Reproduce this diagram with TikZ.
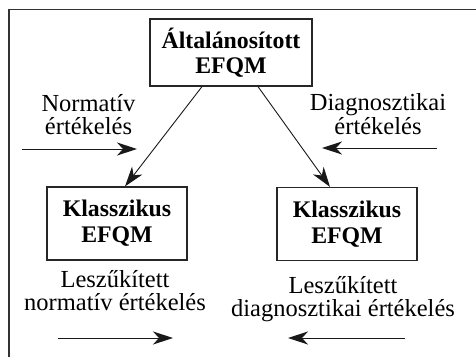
\documentclass[tikz,border=0pt]{standalone}
\usepackage{fontspec}
\setmainfont{Liberation Serif}
\usetikzlibrary{arrows.meta}
\begin{document}
\begin{tikzpicture}[x=1pt,y=-1pt,
  box/.style={draw=black!85, line width=1.2pt, align=center, inner sep=0pt,
    font=\fontsize{23.8}{25}\selectfont\bfseries},
  lbl/.style={anchor=base, inner sep=0pt, align=center,
    font=\fontsize{24.5}{22}\selectfont},
  arr/.style={draw=black!90, line width=0.9pt, -{Stealth[length=20pt,width=13pt,inset=6pt]}},
  frame/.style={draw=black!80, line width=1.6pt}]
\useasboundingbox (0,0) rectangle (476,356);
% frame (only top and left edges visible)
\coordinate (fa) at (9,400);
\coordinate (fb) at (9,9.5);
\coordinate (fc) at (500,9.5);
\draw[frame] (fa) -- (fb) -- (fc);
% boxes
\node[box, minimum width=162pt, minimum height=67pt] (top) at (231,52.5)
  {Általánosított\\EFQM};
\node[box, minimum width=140pt, minimum height=73pt] (left) at (117,223.5)
  {Klasszikus\\[1pt]EFQM};
\node[box, minimum width=140pt, minimum height=73pt] (right) at (347,224)
  {Klasszikus\\[1pt]EFQM};
% diagonal arrows
\draw[arr] ([xshift=-29pt]top.south) -- ([xshift=8pt]left.north);
\draw[arr] ([xshift=27pt]top.south) -- ([xshift=-17pt]right.north);
% upper labels (base = baseline of the last line)
\node[lbl] (nl) at (88.5,134.5) {Normatív\\[1pt]értékelés};
\node[lbl] (dl) at (378,134.5) {Diagnosztikai\\[1pt]értékelés};
% upper horizontal arrows
\coordinate (a1s) at (22,149);
\coordinate (a1e) at (137,149);
\coordinate (a2s) at (437,148);
\coordinate (a2e) at (322,148);
\draw[arr] (a1s) -- (a1e);
\draw[arr] (a2s) -- (a2e);
% lower labels
\node[lbl] (ll) at (115,310) {Leszűkített\\[1pt]normatív értékelés};
\node[lbl] (rl) at (343,316) {Leszűkített\\[1pt]diagnosztikai értékelés};
% lower horizontal arrows
\coordinate (b1s) at (58,338);
\coordinate (b1e) at (173,338);
\coordinate (b2s) at (405,338);
\coordinate (b2e) at (288,338);
\draw[arr] (b1s) -- (b1e);
\draw[arr] (b2s) -- (b2e);
\end{tikzpicture}
\end{document}
